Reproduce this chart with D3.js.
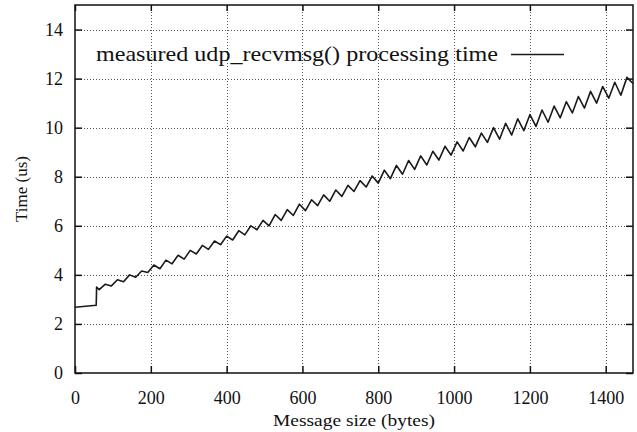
<!DOCTYPE html>
<html><head><meta charset="utf-8">
<script src="https://cdn.jsdelivr.net/npm/d3@7"></script>
<style>body{margin:0;background:#fff}svg{display:block}text{font-family:"Liberation Serif","Times New Roman",serif;fill:#111}</style>
</head><body>
<script>
const xTicks = [0,200,400,600,800,1000,1200,1400];
const yTicks = [0,2,4,6,8,10,12,14];
const xLabel = "Message size (bytes)";
const yLabel = "Time (us)";
const seriesName = "measured udp_recvmsg() processing time";
const msgSize = [0,56,57,64,80,96,112,128,144,160,176,192,208,224,240,256,272,288,304,320,336,352,368,384,400,416,432,448,464,480,496,512,528,544,560,576,592,608,624,640,656,672,688,704,720,736,752,768,784,800,816,832,848,864,880,896,912,928,944,960,976,992,1008,1024,1040,1056,1072,1088,1104,1120,1136,1152,1168,1184,1200,1216,1232,1248,1264,1280,1296,1312,1328,1344,1360,1376,1392,1408,1424,1440,1456,1472];
const timeUs = [2.68,2.76,3.50,3.40,3.62,3.55,3.80,3.72,4.00,3.90,4.16,4.10,4.40,4.25,4.60,4.45,4.80,4.64,5.00,4.85,5.20,5.04,5.38,5.23,5.58,5.42,5.80,5.63,6.00,5.84,6.22,6.00,6.46,6.22,6.66,6.42,6.88,6.62,7.06,6.82,7.26,7.00,7.46,7.20,7.65,7.40,7.84,7.58,8.03,7.74,8.27,7.92,8.46,8.10,8.66,8.30,8.85,8.48,9.04,8.68,9.24,8.88,9.42,9.05,9.60,9.22,9.78,9.40,10.00,9.53,10.18,9.70,10.36,9.88,10.53,10.05,10.72,10.22,10.88,10.40,11.06,10.60,11.27,10.80,11.48,11.00,11.68,11.20,11.85,11.32,12.05,11.80];

const W=637,H=432;
const m={l:75,t:5,r:4,b:59};
const svg=d3.select("body").append("svg").attr("width",W).attr("height",H);
const x=d3.scaleLinear().domain([0,1472]).range([m.l,W-m.r]);
const y=d3.scaleLinear().domain([0,15]).range([H-m.b,m.t]);
const x0=x.range()[0],x1=x.range()[1],y0=y.range()[0],y1=y.range()[1];

// grid
const grid=svg.append("g").attr("stroke","#555").attr("stroke-width",1).attr("stroke-dasharray","1,2");
grid.selectAll(".gx").data(xTicks.filter(v=>v>0)).enter().append("line")
 .attr("x1",d=>Math.round(x(d))+0.5).attr("x2",d=>Math.round(x(d))+0.5).attr("y1",y0).attr("y2",y1);
grid.selectAll(".gy").data(yTicks.filter(v=>v>0)).enter().append("line")
 .attr("y1",d=>Math.round(y(d))+0.5).attr("y2",d=>Math.round(y(d))+0.5).attr("x1",x0).attr("x2",x1);

// axes
const fs=18;
const ax=svg.append("g").attr("transform",`translate(0,${y0})`).call(d3.axisBottom(x).tickValues(xTicks).tickSize(-7).tickPadding(18).tickFormat(d3.format("d")));
const axTop=svg.append("g").attr("transform",`translate(0,${y1})`).call(d3.axisTop(x).tickValues(xTicks).tickSize(-6).tickFormat(""));
const ay=svg.append("g").attr("transform",`translate(${x0},0)`).call(d3.axisLeft(y).tickValues(yTicks).tickSize(-7).tickPadding(12));
const ayR=svg.append("g").attr("transform",`translate(${x1},0)`).call(d3.axisRight(y).tickValues(yTicks).tickSize(-7).tickFormat(""));
[ax,axTop,ay,ayR].forEach(g=>{g.select(".domain").remove();g.selectAll(".tick line").attr("stroke","#111").attr("stroke-width",1.5);g.selectAll("text").attr("font-size",fs).attr("font-family","Liberation Serif").attr("fill","#111");});

// frame
svg.append("rect").attr("x",x0).attr("y",y1).attr("width",x1-x0).attr("height",y0-y1).attr("fill","none").attr("stroke","#111").attr("stroke-width",1.5);

// line
const pts=msgSize.map((v,i)=>[v,timeUs[i]]);
svg.append("path").datum(pts).attr("fill","none").attr("stroke","#1a1a1a").attr("stroke-width",1.6).attr("stroke-linejoin","round")
 .attr("d",d3.line().x(d=>x(d[0])).y(d=>y(d[1])));

// legend
svg.append("text").attr("x",96).attr("y",61).attr("font-size",21).attr("textLength",402).attr("lengthAdjust","spacingAndGlyphs").text(seriesName);
svg.append("line").attr("x1",511).attr("x2",564).attr("y1",54.5).attr("y2",54.5).attr("stroke","#1a1a1a").attr("stroke-width",1.3);

// titles
svg.append("text").attr("x",273).attr("y",426).attr("font-size",17).attr("textLength",162).attr("lengthAdjust","spacingAndGlyphs").text(xLabel);
svg.append("text").attr("transform",`translate(27,${(y0+y1)/2}) rotate(-90)`).attr("text-anchor","middle").attr("font-size",17).text(yLabel);
</script>
</body></html>
